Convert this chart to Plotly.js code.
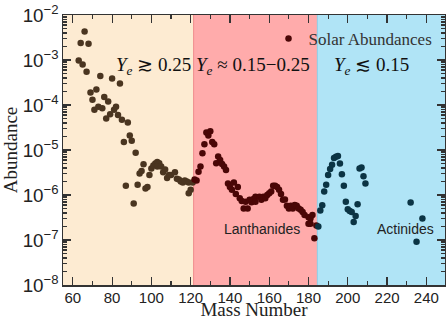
<!DOCTYPE html>
<html>
<head>
<meta charset="utf-8">
<script src="https://cdn.plot.ly/plotly-3.0.1.min.js"></script>
<style>html,body{margin:0;padding:0;background:#fff;}#chart{width:446px;height:320px;}</style>
</head>
<body>
<div id="chart"></div>
<script>
// Solar abundances
const massNumber = [
  63,64,65,66,67,68,69,70,71,72,73,74,75,76,77,78,79,80,81,82,83,84,85,86,87,88,89,90,
  91,92,93,94,95,96,97,98,99,100,101,102,103,104,103,105,106,107,108,109,110,112,113,114,
  115,116,117,118,119,119,120,121,
  122,123,124,125,126,127,128,129,130,131,132,133,134,135,136,137,138,139,140,141,142,143,
  144,145,146,147,148,149,150,151,152,153,153,155,156,157,158,159,160,161,162,163,164,165,
  166,168,167,169,170,171,172,173,174,175,176,177,178,180,181,182,180,181,183,184,
  185,186,187,188,189,190,191,192,193,194,195,196,197,198,199,200,201,202,203,204,205,206,
  207,208,209,232,235,238
];
const abundance = [
  9.8e-4,2.4e-3,7.9e-4,4.3e-3,5.5e-4,2.3e-3,1.9e-4,1.3e-4,7.8e-5,2.2e-4,9.1e-5,4.4e-4,8.5e-5,1.5e-4,
  5.0e-5,1.2e-4,6.2e-5,3.9e-4,7.8e-5,9.1e-5,6.0e-5,3.0e-4,4.7e-5,1.5e-5,1.6e-6,4.1e-5,2.1e-5,1.6e-5,
  6.5e-7,8.7e-6,1.7e-6,3.0e-6,3.4e-6,4.8e-6,1.4e-6,1.5e-6,2.8e-6,3.9e-6,4.5e-6,5.0e-6,5.4e-6,5.1e-6,
  4.3e-6,4.3e-6,3.2e-6,3.7e-6,2.4e-6,2.8e-6,2.8e-6,3.2e-6,2.3e-6,2.2e-6,
  2.0e-6,1.9e-6,2.1e-6,2.0e-6,1.9e-6,1.1e-6,1.3e-6,1.9e-6,
  2.2e-6,2.1e-6,3.3e-6,4.3e-6,8.5e-6,1.35e-5,2.45e-5,2.1e-5,2.6e-5,1.5e-5,1.35e-5,5.1e-6,7.2e-6,
  6.0e-6,4.9e-6,4.3e-6,3.6e-6,1.8e-6,1.5e-6,1.3e-6,1.9e-6,1.05e-6,
  1.5e-6,8.5e-7,7.4e-7,5.0e-7,7.1e-7,5.0e-7,7.8e-7,6.9e-7,8.1e-7,9.1e-7,7.1e-7,9.1e-7,7.8e-7,9.1e-7,
  8.5e-7,1.0e-6,1.1e-6,1.2e-6,1.6e-6,1.6e-6,1.5e-6,1.3e-6,
  1.05e-6,7.9e-7,7.8e-7,5.8e-7,5.0e-7,5.8e-7,5.0e-7,6.0e-7,5.8e-7,5.0e-7,4.7e-7,4.2e-7,3.6e-7,3.2e-7,
  3.0e-7,3.6e-7,2.3e-7,2.3e-7,1.1e-7,2.1e-7,
  2.0e-7,4.5e-7,5.9e-7,1.2e-6,1.7e-6,2.8e-6,3.8e-6,4.7e-6,6.6e-6,7.1e-6,7.4e-6,5.0e-6,2.9e-6,1.6e-6,
  7.1e-7,4.8e-7,4.4e-7,4.2e-7,2.5e-7,3.4e-7,6.2e-7,3.9e-6,
  4.1e-6,2.6e-6,1.8e-6,6.8e-7,9.1e-8,3.0e-7
];
const regionEdges = [55, 121.5, 184.5, 249.5];
const regionLabels = ['<i>Y</i><sub><i>e</i></sub> ≳ 0.25', '<i>Y</i><sub><i>e</i></sub> ≈ 0.15−0.25', '<i>Y</i><sub><i>e</i></sub> ≲ 0.15'];
const regionFill = ['#FDEBD2', '#FFABAB', '#B0E4F6'];
const regionEdgeLine = ['rgba(0,0,0,0)', '#F08C8C', '#8CCDE6'];
const markerColors = ['#4A3520', '#4A0606', '#0B3444'];
const legendName = 'Solar Abundances';
const groupLabels = ['Lanthanides', 'Actinides'];
const groupLabelPos = [[156.5, 1.8e-7], [229.5, 1.8e-7]];
const xTickVals = [60, 80, 100, 120, 140, 160, 180, 200, 220, 240];

const traces = [];
for (let r = 0; r < 3; r++) {
  const xs = [], ys = [];
  massNumber.forEach((m, i) => {
    if (m >= regionEdges[r] && m < regionEdges[r + 1]) { xs.push(m); ys.push(abundance[i]); }
  });
  traces.push({
    type: 'scatter', mode: 'markers', x: xs, y: ys,
    name: legendName, legendgroup: 'solar', showlegend: r === 1,
    marker: {color: markerColors[r], size: 6.5}
  });
}

const shapes = [];
for (let r = 0; r < 3; r++) {
  shapes.push({type: 'rect', xref: 'x', yref: 'paper', x0: regionEdges[r], x1: regionEdges[r + 1],
    y0: 0, y1: 1, fillcolor: regionFill[r], line: {width: 0}, layer: 'below'});
  if (r > 0) shapes.push({type: 'line', xref: 'x', yref: 'paper', x0: regionEdges[r], x1: regionEdges[r],
    y0: 0, y1: 1, line: {color: regionEdgeLine[r], width: 1}, layer: 'below'});
}

const annXs = [81.2, 121.8, 191.8];
const annotations = regionLabels.map((t, i) => ({
  text: t, xref: 'x', yref: 'paper', x: annXs[i], y: 0.81, xanchor: 'left', yanchor: 'middle',
  showarrow: false, font: {family: 'Liberation Serif', size: 19, color: '#111'}
}));
groupLabels.forEach((t, i) => annotations.push({
  text: t, xref: 'x', yref: 'y', x: groupLabelPos[i][0], y: Math.log10(groupLabelPos[i][1]),
  xanchor: 'center', yanchor: 'middle', showarrow: false,
  font: {family: 'Liberation Sans', size: 14, color: '#222'}
}));

const axisCommon = {
  showgrid: false, zeroline: false, showline: true, linecolor: '#333', linewidth: 1.5,
  mirror: 'ticks', ticks: 'inside', ticklen: 8, tickwidth: 1.2, tickcolor: '#333',
  tickfont: {family: 'Liberation Sans', size: 15, color: '#222'}
};

const layout = {
  width: 446, height: 320,
  margin: {l: 63, r: 1, t: 15, b: 35},
  paper_bgcolor: '#fff', plot_bgcolor: '#fff',
  xaxis: Object.assign({}, axisCommon, {
    range: [regionEdges[0], regionEdges[3]], tickvals: xTickVals, ticklabelstandoff: -2,
    minor: {dtick: 10, tick0: 60, ticks: 'inside', ticklen: 4, tickcolor: '#333'},
    title: {text: 'Mass Number', standoff: 4, font: {family: 'Liberation Serif', size: 19, color: '#222'}}
  }),
  yaxis: Object.assign({}, axisCommon, {
    type: 'log', range: [-8, -2], dtick: 1, exponentformat: 'power',
    minor: {ticks: 'inside', ticklen: 4, tickcolor: '#333', dtick: 'D1'},
    title: {text: 'Abundance', standoff: 6, font: {family: 'Liberation Serif', size: 19, color: '#222'}}
  }),
  shapes: shapes,
  annotations: annotations,
  showlegend: true,
  legend: {x: 0.538, y: 0.978, xanchor: 'left', yanchor: 'top', bgcolor: 'rgba(0,0,0,0)',
    borderwidth: 0, itemwidth: 30, font: {family: 'Liberation Serif', size: 17, color: '#333'}}
};

Plotly.newPlot('chart', traces, layout, {displayModeBar: false, staticPlot: true});
</script>
</body>
</html>
